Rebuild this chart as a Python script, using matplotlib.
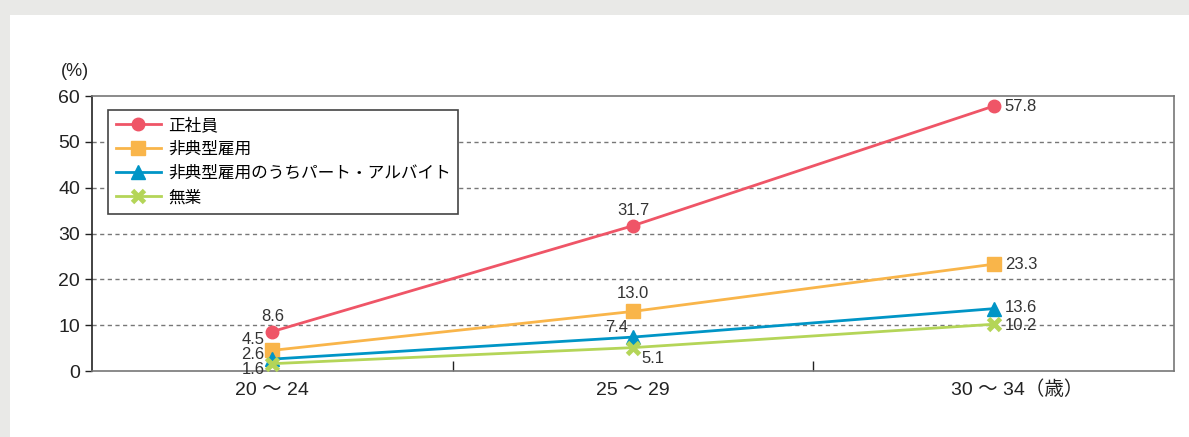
import matplotlib.pyplot as plt
from matplotlib.patches import Rectangle

plt.rcParams['font.family'] = ['Noto Sans CJK JP', 'DejaVu Sans']
num_font = ['Liberation Sans', 'Noto Sans CJK JP']

categories = ['20～24', '25～29', '30～34（歳）']
tick_labels = ['20 ～ 24', '25 ～ 29', '30 ～ 34（歳）']
seishain = [8.6, 31.7, 57.8]
hitenkei = [4.5, 13.0, 23.3]
part = [2.6, 7.4, 13.6]
mugyo = [1.6, 5.1, 10.2]

series_names = ['正社員', '非典型雇用', '非典型雇用のうちパート・アルバイト', '無業']
colors = ['#ef5567', '#f9b54a', '#0095c6', '#b4d558']
markers = ['o', 's', '^', 'x']

fig = plt.figure(figsize=(11.89, 4.37), dpi=100, facecolor='#e9e9e7')
fig.patches.append(Rectangle((10 / 1189, 0), 1, 1 - 15 / 437, transform=fig.transFigure,
                             facecolor='white', edgecolor='none', zorder=-10))
ax = fig.add_axes([92 / 1189, 1 - 371 / 437, (1174 - 92) / 1189, (371 - 96) / 437])
ax.set_zorder(1)
ax.set_facecolor('white')

x = list(range(len(categories)))
all_series = [seishain, hitenkei, part, mugyo]
for vals, name, c, m in zip(all_series, series_names, colors, markers):
    if m == 'x':
        ax.plot(x, vals, color=c, lw=2, marker=m, markersize=9, markeredgewidth=3.5,
                label=name, zorder=3)
    else:
        ax.plot(x, vals, color=c, lw=2, marker=m, markersize=10 if m != 'o' else 9,
                label=name, zorder=3)

# data labels
fs = 12
lab_color = '#333333'
def lab(xi, v, dx, dy, ha='center', va='center'):
    ax.annotate(f'{v:.1f}', (xi, v), xytext=(dx, dy), textcoords='offset points',
                ha=ha, va=va, fontsize=fs, color=lab_color, family=num_font, zorder=4)

lab(0, seishain[0], 0, 11)
lab(1, seishain[1], 0, 11)
lab(2, seishain[2], 8, 0, ha='left')
lab(0, hitenkei[0], -14, 8)
lab(1, hitenkei[1], 0, 13)
lab(2, hitenkei[2], 8, 0, ha='left')
lab(0, part[0], -14, 3)
lab(1, part[1], -12, 7)
lab(2, part[2], 8, 1, ha='left')
lab(0, mugyo[0], -14, -4)
lab(1, mugyo[1], 14, -8)
lab(2, mugyo[2], 8, -1, ha='left')

ax.set_xlim(-0.5, 2.5)
ax.set_ylim(0, 60)
ax.set_yticks(range(0, 61, 10))
ax.tick_params(axis='y', labelsize=14, length=5, width=1, direction='out', colors='#222222')
for t in ax.get_yticklabels():
    t.set_family(num_font)
ax.set_xticks([0.5, 1.5])
ax.set_xticklabels([])
ax.tick_params(axis='x', length=7, width=1, direction='in', colors='#222222')
for xi, t in zip(x, tick_labels):
    ax.text(xi + (0.065 if '歳' in t else 0), -5.3, t, ha='center', va='baseline', fontsize=14,
            color='#222222', family=num_font, transform=ax.transData)

for yv in range(10, 60, 10):
    ax.axhline(yv, color='#777777', lw=1, ls=(0, (3, 2.5)), zorder=1)

ax.spines['left'].set_color('#222222')
for s in ['top', 'right', 'bottom']:
    ax.spines[s].set_color('#777777')
for s in ax.spines.values():
    s.set_linewidth(1.2)

ax.text(-0.016, 1.088, '(%)', transform=ax.transAxes, ha='center', va='center', fontsize=13,
        color='#222222', family=num_font)

leg = ax.legend(loc='upper left', bbox_to_anchor=(0.0148, 0.95), fontsize=12, frameon=True,
                fancybox=False, edgecolor='#444444', framealpha=1, borderpad=0.45,
                labelspacing=0.42, handlelength=2.7, handletextpad=0.45, borderaxespad=0)
leg.get_frame().set_linewidth(1.2)

fig.savefig('out.png', dpi=100, facecolor=fig.get_facecolor())
